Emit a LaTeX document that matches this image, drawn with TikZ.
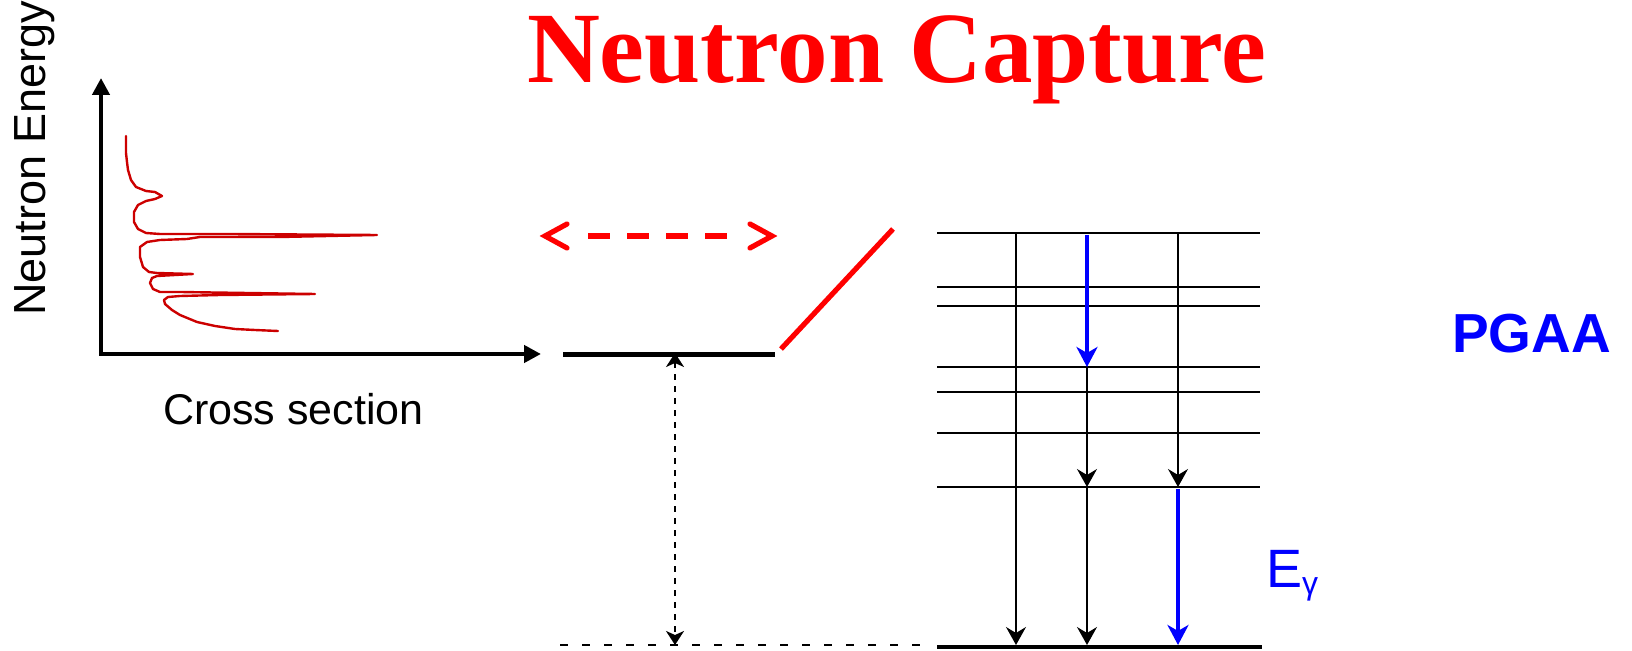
\documentclass[tikz,border=0pt]{standalone}
\usepackage{fontspec}
\setmainfont{Liberation Serif}
\newfontfamily\arialf{Liberation Sans}
\usetikzlibrary{arrows.meta,calc}
\definecolor{curvered}{RGB}{204,0,0}
\begin{document}
\begin{tikzpicture}[x=0.5pt,y=-0.5pt,
  txt/.style={anchor=base west,inner sep=0pt,outer sep=0pt},
  axisline/.style={line width=2.2pt,{Triangle[length=8.5pt,width=8.5pt]}-{Triangle[length=8.5pt,width=8.5pt]}},
  levelline/.style={line width=0.9pt},
  groundline/.style={line width=2pt},
  gtrans/.style={line width=0.85pt,-{Stealth[length=9pt,width=10pt,inset=3pt]}},
  btrans/.style={line width=2.2pt,blue,-{Stealth[length=10pt,width=10.5pt,inset=3pt]}},
  redline/.style={line width=2.6pt,red,line cap=round},
]
\useasboundingbox (0,0) rectangle (1632,651);

% title
\node[txt,text=red,font=\fontsize{50.5}{55}\selectfont\bfseries] (title) at (527,83) {Neutron Capture};

% axes
\coordinate (ytop) at (101,78);
\coordinate (origin) at (101,354);
\coordinate (xend) at (541,354);
\draw[axisline] (ytop) -- (origin) -- (xend);
\node[txt,rotate=90,font=\arialf\fontsize{22.5}{26}\selectfont] (ylab) at (45,316) {Neutron Energy};
\node[txt,font=\arialf\fontsize{21.5}{24}\selectfont] (xlab) at (163,425) {Cross section};

% cross section curve
\draw[curvered,line width=1.2pt,line join=round,line cap=round]
 (126,136) -- (126,153) -- (127,162) -- (128,170) -- (131,180) -- (136,187) -- (146,191) -- (155,192)
 -- (162,196) -- (155,199) -- (146,201) -- (138,205) -- (134,212) -- (134,222) -- (138,229) -- (146,233)
 -- (160,234) -- (230,234) -- (377,235) -- (280,237) -- (200,237) -- (187,239) -- (160,240) -- (147,242)
 -- (140,247) -- (140,257) -- (143,267) -- (149,272) -- (157,273) -- (193,274) -- (157,276) -- (152,278)
 -- (150,283) -- (153,289) -- (160,292) -- (180,292) -- (315,294) -- (220,295) -- (180,296) -- (168,297)
 -- (164,300) -- (165,304) -- (172,310) -- (180,315) -- (197,322) -- (215,326) -- (235,329) -- (255,330) -- (278,331);

% red dashed double arrow
\coordinate (dl) at (545,236);
\coordinate (dr) at (772,236);
\draw[redline,line cap=butt,dash pattern=on 11pt off 8.5pt] ($(dl)+(43,0)$) -- ($(dr)+(-45,0)$);
\draw[redline] ($(dl)+(22,-12)$) -- (dl) -- ($(dl)+(22,12)$);
\draw[redline] ($(dr)+(-22,-12)$) -- (dr) -- ($(dr)+(-22,12)$);

% red diagonal and black bar
\coordinate (diagA) at (781,349);
\coordinate (diagB) at (893,229);
\draw[redline,line cap=butt] (diagA) -- (diagB);
\coordinate (barL) at (563,355);
\coordinate (barR) at (775,355);
\draw[line width=2.5pt] (barL) -- (barR);

% binding energy
\coordinate (bnTop) at (675,353);
\coordinate (bnBot) at (675,645);
\draw[line width=1pt,dash pattern=on 3pt off 3pt,{Stealth[length=7pt,width=9pt,inset=2pt]}-{Stealth[length=7pt,width=9pt,inset=2pt]}] (bnTop) -- (bnBot);
\coordinate (gsL) at (560,645);
\coordinate (gsR) at (925,645);
\draw[line width=1.1pt,dash pattern=on 4pt off 7pt] (gsL) -- (gsR);

% levels
\foreach \yy in {233,287,306,367,392,433,487}{
  \draw[levelline] (937,\yy) -- (1260,\yy);
}
\draw[groundline] (937,647) -- (1262,647);

% transitions
\coordinate (t1a) at (1016,233); \coordinate (t1b) at (1016,645);
\draw[gtrans] (t1a) -- (t1b);
\coordinate (t2a) at (1087,235); \coordinate (t2b) at (1087,367);
\coordinate (t2c) at (1087,487); \coordinate (t2d) at (1087,645);
\draw[btrans] (t2a) -- (t2b);
\draw[gtrans] (t2b) -- (t2c);
\draw[gtrans] (t2c) -- (t2d);
\coordinate (t3a) at (1178,233); \coordinate (t3b) at (1178,487);
\coordinate (t3c) at (1178,489); \coordinate (t3d) at (1178,645);
\draw[gtrans] (t3a) -- (t3b);
\draw[btrans] (t3c) -- (t3d);

% labels
\node[txt,text=blue,font=\arialf\fontsize{27.5}{30}\selectfont\bfseries] (pgaa) at (1452,353) {PGAA};
\node[txt,text=blue,font=\arialf\fontsize{27}{30}\selectfont] (eg) at (1266,588) {E\raisebox{-3pt}{\fontsize{16}{18}\selectfont γ}};
\end{tikzpicture}
\end{document}
